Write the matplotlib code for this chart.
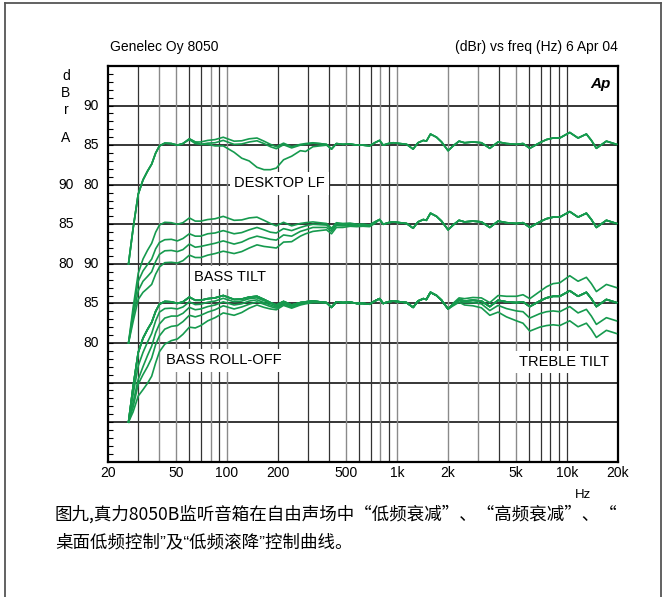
import numpy as np
import matplotlib
matplotlib.use("Agg")
from matplotlib import pyplot as plt
from matplotlib.lines import Line2D
from matplotlib.ticker import FixedLocator, NullFormatter

plt.rcParams['font.family'] = ['Liberation Sans', 'DejaVu Sans']

# ---- data (dB relative to each group's 85 dB line) ----
# low / mid frequency part, where the controls differ
freq_lf = [26.3, 28, 30, 32, 34, 36, 38, 40, 43, 47, 51, 55, 60, 65, 70, 77, 85,
           95, 110, 122, 135, 150, 165, 180, 195, 215, 240, 270, 290, 320, 350,
           385, 412, 440, 480, 530, 580, 630, 690, 740]
base_lf = [-15, -10.5, -6.2, -4.4, -3.3, -2.4, -1.0, -0.1, 0.25, 0.2, 0.0, 0.2,
           0.8, 0.4, 0.4, 0.6, 0.7, 1.0, 0.5, 0.55, 0.8, 0.9, 0.5, 0.1, -0.2,
           0.25, -0.2, 0.1, 0.2, 0.3, 0.2, 0.1, -0.5, 0.2, 0.1, 0.15, 0.0, 0.0,
           -0.1, 0.3]

# high frequency part, common to every curve
freq_hf = [790, 830, 890, 950, 1040, 1140, 1245, 1330, 1430, 1490, 1575, 1710,
           1830, 2000, 2140, 2320, 2500, 2800, 3140, 3520, 3940, 4410, 5050,
           5520, 6050, 6920, 7580, 8300, 9080, 10400, 11640, 13030, 13940,
           14920, 17090, 19580]
base_hf = [0.6, 0.0, 0.2, 0.3, 0.2, 0.1, -0.5, 0.3, 0.6, 0.5, 1.4, 1.0, 0.4,
           -0.7, -0.1, 0.5, 0.3, 0.4, 0.3, -0.4, 0.4, 0.2, 0.1, 0.2, -0.4, 0.3,
           0.7, 0.9, 0.9, 1.6, 0.9, 1.4, 0.6, -0.4, 0.5, 0.1]

# desktop LF: deviation from the flat curve (low part)
desktop_dip = [0, 0, 0, 0, 0, 0, 0, 0, 0, 0, 0, 0, 0, 0, -0.3, -0.5, -0.8,
               -1.1, -1.4, -2.2, -2.8, -3.7, -3.6, -3.2, -2.7, -2.1, -1.2, -0.8,
               -1.0, -0.5, -0.3, -0.1, 0, 0, 0, 0, 0, 0, 0, 0]
desktop_mid = [0, 0, 0, 0, 0, 0, 0, 0, 0, 0, 0, 0, -0.1, -0.2, -0.3, -0.35,
               -0.4, -0.4, -0.4, -0.4, -0.4, -0.35, -0.3, -0.3, -0.25, -0.2,
               -0.15, -0.1, -0.1, -0.05, 0, 0, 0, 0, 0, 0, 0, 0, 0, 0]

# bass tilt deviations (low part)
tilt_1 = [0, -0.6, -1.0, -1.5, -1.8, -2.0, -2.1, -2.2, -2.2, -2.1, -2.1, -2.0,
          -2.0, -1.9, -1.9, -1.8, -1.8, -1.8, -1.7, -1.6, -1.5, -1.3, -1.2,
          -1.1, -0.9, -0.8, -0.6, -0.5, -0.4, -0.3, -0.25, -0.2, -0.15, -0.15,
          -0.1, -0.1, -0.05, 0, 0, 0]
tilt_2 = [0, -1.2, -2.2, -2.8, -3.3, -3.6, -3.7, -3.7, -3.6, -3.5, -3.45, -3.4,
          -3.3, -3.3, -3.2, -3.2, -3.1, -3.1, -3.0, -2.8, -2.6, -2.4, -2.2,
          -2.0, -1.8, -1.6, -1.3, -1.0, -0.9, -0.7, -0.6, -0.5, -0.4, -0.35,
          -0.3, -0.25, -0.2, -0.15, -0.1, -0.1]
tilt_3 = [0, -1.8, -3.3, -4.2, -4.8, -5.2, -5.3, -5.3, -5.1, -5.0, -4.9, -4.8,
          -4.7, -4.6, -4.6, -4.5, -4.4, -4.4, -4.2, -4.0, -3.8, -3.5, -3.3,
          -3.0, -2.8, -2.5, -2.0, -1.6, -1.4, -1.2, -1.0, -0.8, -0.7, -0.6,
          -0.5, -0.4, -0.3, -0.25, -0.2, -0.2]

# bass roll-off deviations (low part)
roll_1 = [0, -1.0, -1.7, -1.8, -1.6, -1.4, -1.2, -1.0, -0.9, -0.8, -0.7, -0.65,
          -0.6, -0.55, -0.5, -0.45, -0.4, -0.35, -0.3, -0.25, -0.2, -0.2, -0.15,
          -0.1, -0.1, -0.1, -0.05, 0, 0, 0, 0, 0, 0, 0, 0, 0, 0, 0, 0, 0]
roll_2 = [0, -2.0, -3.4, -3.6, -3.3, -3.0, -2.7, -2.5, -2.1, -1.8, -1.6, -1.45,
          -1.3, -1.2, -1.1, -1.0, -0.9, -0.8, -0.7, -0.6, -0.5, -0.45, -0.4,
          -0.3, -0.25, -0.2, -0.15, -0.1, -0.1, -0.05, 0, 0, 0, 0, 0, 0, 0, 0,
          0, 0]
roll_3 = [0, -2.6, -4.0, -4.6, -4.7, -4.5, -4.2, -4.0, -3.5, -3.1, -2.8, -2.5,
          -2.3, -2.1, -1.9, -1.7, -1.5, -1.3, -1.2, -1.0, -0.9, -0.7, -0.6,
          -0.5, -0.4, -0.35, -0.3, -0.2, -0.15, -0.1, -0.05, 0, 0, 0, 0, 0, 0,
          0, 0, 0]
roll_4 = [0, -3.2, -5.5, -6.5, -6.8, -6.8, -6.5, -6.0, -5.4, -4.9, -4.5, -4.1,
          -3.8, -3.5, -3.2, -2.8, -2.5, -2.2, -2.0, -1.7, -1.4, -1.1, -1.0,
          -0.8, -0.6, -0.5, -0.4, -0.3, -0.25, -0.2, -0.1, -0.05, 0, 0, 0, 0,
          0, 0, 0, 0]

# treble tilt deviations (high part)
treble_up = [0, 0, 0, 0, 0, 0, 0, 0, 0, 0, 0, 0, 0, 0, 0.1, 0.2, 0.3, 0.35,
             0.4, 0.5, 0.6, 0.7, 0.8, 0.9, 1.0, 1.2, 1.4, 1.6, 1.7, 1.9, 1.9,
             1.9, 1.9, 1.9, 1.9, 1.9]
treble_dn1 = [0, 0, 0, 0, 0, 0, 0, 0, 0, 0, 0, 0, 0, 0, -0.1, -0.15, -0.2, -0.3,
              -0.35, -0.5, -0.65, -0.85, -1.05, -1.25, -1.45, -1.6, -1.75,
              -1.85, -1.95, -2.0, -2.1, -2.15, -2.2, -2.25, -2.3, -2.3]
treble_dn2 = [0, 0, 0, 0, 0, 0, 0, 0, 0, 0, 0, 0, 0, 0, -0.2, -0.35, -0.5, -0.7,
              -0.85, -1.1, -1.5, -1.9, -2.3, -2.7, -3.1, -3.3, -3.5, -3.6, -3.7,
              -3.8, -3.85, -3.9, -3.9, -3.9, -3.9, -3.9]

group_level = {'desktop': 40, 'tilt': 30, 'rolloff': 20}

x_ticks = [20, 50, 100, 200, 500, 1000, 2000, 5000, 10000, 20000]
x_ticklabels = ['20', '50', '100', '200', '500', '1k', '2k', '5k', '10k', '20k']
y_labels_inner = [(45, '90'), (40, '85'), (35, '80'), (25, '90'), (20, '85'), (15, '80')]
y_labels_outer = [(35, '90'), (30, '85'), (25, '80')]

W, H = 665, 597
GREEN = '#169a4e'


def px(x, y):
    return x / W, 1 - y / H


fig = plt.figure(figsize=(W / 100, H / 100), dpi=100)
fig.patch.set_facecolor('white')

# outer frame of the scanned figure
for (x0, y0, x1, y1) in [(5, 3, 661, 3), (5, 3, 5, 597), (661, 3, 661, 597)]:
    a, b = px(x0, y0)
    c, d = px(x1, y1)
    fig.add_artist(Line2D([a, c], [b, d], color='#555555', lw=1.3))

l, t = 108.3, 66
r, b = 618, 461.7
ax = fig.add_axes([l / W, 1 - b / H, (r - l) / W, (b - t) / H])
ax.set_xscale('log')
ax.set_xlim(20, 20000)
ax.set_ylim(0, 50)

# grid
for v in range(5, 50, 5):
    ax.axhline(v, color='black', lw=1.1, zorder=1)
vgrid_dark = [30, 60, 70, 90, 200, 300, 400, 600, 700, 900, 4000, 6000, 7000,
              8000, 9000, 10000]
vgrid_grey = [40, 50, 80, 100, 500, 800, 1000, 2000, 3000, 5000]
for f in vgrid_dark:
    ax.axvline(f, color='#333333', lw=0.9, zorder=1)
for f in vgrid_grey:
    ax.axvline(f, color='#8a8a8a', lw=1.0, zorder=1)

for s in ax.spines.values():
    s.set_linewidth(1.6)

ax.set_xticks(x_ticks)
ax.set_xticklabels(x_ticklabels, fontsize=10)
ax.xaxis.set_minor_locator(FixedLocator([]))
ax.tick_params(axis='x', which='both', length=0, pad=3)
ax.set_yticks([])
ax.yaxis.set_minor_locator(FixedLocator(list(range(1, 50))))
ax.yaxis.set_minor_formatter(NullFormatter())
ax.tick_params(axis='y', which='minor', direction='in', length=3.5, width=0.8)

# y labels (two columns)
ytr = ax.get_yaxis_transform()
for v, s in y_labels_inner:
    ax.text(-0.018, v, s, transform=ytr, ha='right', va='center', fontsize=10)
for v, s in y_labels_outer:
    ax.text(-0.067, v, s, transform=ytr, ha='right', va='center', fontsize=10)
for v, s in [(48.7, 'd'), (46.6, 'B'), (44.5, 'r'), (40.9, 'A')]:
    ax.text(-0.083, v, s, transform=ytr, ha='center', va='center', fontsize=10)

# curves
freq = freq_lf + freq_hf
zero_hf = [0] * len(freq_hf)
zero_lf = [0] * len(freq_lf)


def draw(level, dev_lf, dev_hf):
    y = level + np.array(base_lf + base_hf) + np.array(list(dev_lf) + list(dev_hf))
    ax.plot(freq, y, color=GREEN, lw=1.2, zorder=3)


lev = group_level['desktop']
for dev in [zero_lf, desktop_mid, desktop_dip]:
    draw(lev, dev, zero_hf)

lev = group_level['tilt']
for dev in [zero_lf, tilt_1, tilt_2, tilt_3]:
    draw(lev, dev, zero_hf)

lev = group_level['rolloff']
for dev in [zero_lf, roll_1, roll_2, roll_3, roll_4]:
    draw(lev, dev, zero_hf)
for dev in [treble_up, treble_dn1, treble_dn2]:
    draw(lev, zero_lf, dev)

# labels with white boxes
box = dict(facecolor='white', edgecolor='none', boxstyle='square,pad=0.3')
ax.text(204, 35.2, 'DESKTOP LF', fontsize=10.5, ha='center', va='center', bbox=box, zorder=2)
ax.text(104, 23.3, 'BASS TILT', fontsize=10.5, ha='center', va='center', bbox=box, zorder=2)
ax.text(96, 12.8, 'BASS ROLL-OFF', fontsize=10.5, ha='center', va='center', bbox=box, zorder=2)
ax.text(9660, 12.6, 'TREBLE TILT', fontsize=10.5, ha='center', va='center', bbox=box, zorder=2)
ax.text(0.985, 0.955, 'Ap', transform=ax.transAxes, fontsize=11, fontweight='bold',
        style='italic', ha='right', va='center')

# header texts
fig.text(*px(110, 47), 'Genelec Oy 8050', fontsize=10, ha='left', va='center')
fig.text(*px(618, 47), '(dBr) vs freq (Hz) 6 Apr 04', fontsize=10, ha='right', va='center')
fig.text(*px(583, 495), 'Hz', fontsize=9.5, ha='center', va='center')

# caption (first line is justified in the original, second is not)
fig.text(*px(55, 514), '图九,真力8050B监听音箱在自由声场中“低频衰减”、“高频衰减”、“',
         fontsize=12.6, ha='left', va='center', family=['Noto Sans CJK SC', 'DejaVu Sans'])
fig.text(*px(55, 542), '桌面低频控制”及“低频滚降”控制曲线。',
         fontsize=12.6, ha='left', va='center', family=['Liberation Sans', 'Noto Sans CJK SC'])

fig.savefig('out.png', dpi=100)
